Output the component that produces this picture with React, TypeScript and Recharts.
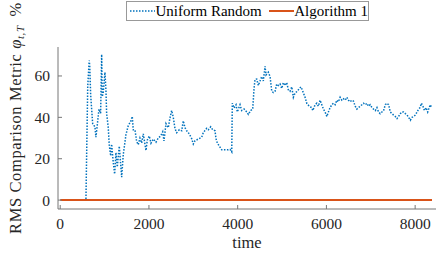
import React from 'react';
import { LineChart, Line, XAxis, YAxis, Legend } from 'recharts';

const urTime = [580, 620, 654, 665, 686, 731, 760, 783, 805, 834, 873, 911, 934, 947, 970, 1008, 1031, 1046, 1083, 1105, 1137, 1159, 1195, 1227, 1256, 1286, 1331, 1346, 1385, 1421, 1483, 1534, 1588, 1624, 1646, 1685, 1723, 1759, 1797, 1836, 1872, 1933, 1962, 2007, 2046, 2097, 2158, 2210, 2264, 2310, 2339, 2384, 2436, 2474, 2512, 2548, 2587, 2625, 2684, 2738, 2774, 2812, 2851, 2909, 2963, 3000, 3038, 3112, 3189, 3225, 3263, 3302, 3338, 3392, 3437, 3489, 3511, 3541, 3586, 3640, 3714, 3789, 3827, 3866, 3879, 3918, 3963, 3992, 4053, 4091, 4143, 4204, 4240, 4294, 4339, 4369, 4391, 4429, 4465, 4504, 4542, 4578, 4617, 4639, 4691, 4730, 4768, 4804, 4842, 4880, 4917, 4955, 4993, 5029, 5068, 5106, 5142, 5180, 5219, 5255, 5293, 5345, 5390, 5429, 5467, 5519, 5557, 5616, 5670, 5693, 5745, 5783, 5819, 5857, 5896, 5932, 5970, 6009, 6045, 6083, 6122, 6158, 6197, 6235, 6271, 6309, 6348, 6384, 6423, 6461, 6497, 6535, 6574, 6610, 6649, 6687, 6723, 6761, 6800, 6836, 6875, 6913, 6949, 6987, 7026, 7062, 7101, 7139, 7175, 7213, 7252, 7288, 7327, 7365, 7401, 7440, 7478, 7514, 7553, 7591, 7627, 7666, 7704, 7740, 7779, 7817, 7853, 7892, 7930, 7966, 8005, 8043, 8079, 8111, 8141, 8175, 8209, 8247, 8283, 8315, 8344, 8366];
const urValue = [0.5, 55, 67.5, 65, 51, 37, 36, 35.5, 30.4, 36, 44, 42, 70.4, 50, 52, 61.8, 53, 42, 35, 26.8, 21.4, 27, 18.3, 12.6, 23, 16, 26.1, 22, 11.1, 22, 31.8, 36, 38, 40.4, 34, 34, 28.3, 26.8, 30, 27.6, 32, 24, 29, 31, 27.5, 29.5, 28, 30, 31, 33, 28.6, 37, 35, 39.7, 43.3, 40, 34.6, 32.6, 34, 33.5, 38.3, 35, 33.5, 32, 29.7, 27.1, 28.7, 29.5, 30.4, 32.6, 33.6, 34.7, 34, 35.4, 34, 33.5, 29.7, 27.6, 26.1, 24.3, 24.3, 24.3, 24.5, 23.3, 46.8, 44.5, 46.1, 42.6, 46.1, 43.3, 44, 42.6, 41.4, 43.3, 44, 54, 58.3, 58.5, 55.4, 57.6, 59.7, 57.6, 64.7, 60.5, 61.8, 59.7, 52.6, 52, 52.6, 56.1, 55.4, 56.1, 54, 56.8, 55.4, 56.8, 53.3, 52.6, 54.7, 49.7, 51.8, 52.6, 54, 54.7, 52.6, 49.7, 46.8, 45.3, 44.7, 43.3, 46.1, 46.8, 45.4, 48.3, 46.1, 44, 42.6, 40.4, 42.6, 44.7, 46.1, 46.8, 46.1, 48.3, 47.5, 49.7, 48.3, 49, 48.3, 49.7, 48.3, 47.5, 48.3, 47.8, 45.4, 44, 44.7, 45.4, 46.1, 46.8, 46.1, 46.8, 45.4, 46.1, 44.7, 44, 43.3, 44.7, 42.6, 41.8, 42.6, 43.3, 46.1, 46.8, 46.1, 42.6, 41.8, 41.1, 40.4, 39.4, 40.4, 41.8, 42.6, 42.6, 41.8, 41.1, 40, 38.6, 40, 40.4, 41.1, 42.6, 44, 44.7, 46.8, 45.4, 43.3, 44.7, 42.6, 44.7, 46.1, 44.7];

const algTime = [0, 8380];
const algValue = [0, 0];

const xTicks = [0, 2000, 4000, 6000, 8000];
const yTicks = [0, 20, 40, 60];

const urData = urTime.map((t, i) => ({ t, v: urValue[i] }));
const algData = algTime.map((t, i) => ({ t, v: algValue[i] }));

const BLUE = '#0072BD';
const ORANGE = '#D95319';
const FONT = 'Liberation Serif, DejaVu Serif, serif';
const AXIS = '#777777';
const TXT = '#262626';

const XTick = (props: any) => (
  <text x={props.x} y={props.y} dy="0.71em" textAnchor="middle" fontSize={15.5} fill={TXT} style={{ fontFamily: FONT }}>
    {props.payload.value}
  </text>
);

const YTick = (props: any) => (
  <text x={props.x} y={props.y} dy="0.35em" textAnchor="end" fontSize={15.5} fill={TXT} style={{ fontFamily: FONT }}>
    {props.payload.value}
  </text>
);

const YLabel = () => (
  <text
    x={21}
    y={118}
    transform="rotate(-90, 21, 118)"
    textAnchor="middle"
    fontSize={16.5}
    letterSpacing={0.6}
    fill={TXT}
    style={{ fontFamily: FONT }}
  >
    RMS Comparison Metric{' '}
    <tspan fontStyle="italic">φ</tspan>
    <tspan fontStyle="italic" fontSize={11} dy={3}>t,T</tspan>
    <tspan dy={-3}>{'\u2002%'}</tspan>
  </text>
);

const XLabel = (props: any) => {
  const vb = props.viewBox || { x: 58, width: 378 };
  return (
    <text x={vb.x + vb.width / 2} y={248} textAnchor="middle" fontSize={16.5} fill={TXT} style={{ fontFamily: FONT }}>
      time
    </text>
  );
};

const LegendBox = () => (
  <div
    style={{
      border: '1px solid #999',
      background: '#fff',
      width: 243,
      height: 20,
      display: 'flex',
      alignItems: 'center',
      fontFamily: FONT,
      fontSize: 15,
      color: '#000',
      boxSizing: 'border-box',
      whiteSpace: 'nowrap',
    }}
  >
    <svg width={27} height={10} style={{ marginLeft: 2 }}>
      <line x1={1} y1={5} x2={26} y2={5} stroke={BLUE} strokeWidth={1.5} strokeDasharray="1.5 1.5" />
    </svg>
    <span>Uniform Random</span>
    <svg width={27} height={10} style={{ marginLeft: 6 }}>
      <line x1={1} y1={5} x2={26} y2={5} stroke={ORANGE} strokeWidth={2} />
    </svg>
    <span>Algorithm 1</span>
  </div>
);

export default function App() {
  return (
    <div style={{ position: 'absolute', left: 0, top: 0, width: 447, height: 254, background: '#fff', fontFamily: FONT }}>
      <LineChart width={447} height={254} margin={{ top: 27, right: 11, left: 0, bottom: 0 }}>
        <XAxis
          xAxisId="b"
          dataKey="t"
          type="number"
          domain={[-50, 8470]}
          ticks={xTicks}
          allowDataOverflow
          height={45}
          tickSize={-4}
          tickMargin={13}
          stroke={AXIS}
          tick={<XTick />}
          label={<XLabel />}
        />
        <XAxis
          xAxisId="top"
          orientation="top"
          dataKey="t"
          type="number"
          domain={[-50, 8470]}
          ticks={xTicks}
          allowDataOverflow
          height={0}
          tickSize={-4}
          tick={false}
          stroke={AXIS}
        />
        <YAxis
          yAxisId="l"
          type="number"
          domain={[-4.3, 74]}
          ticks={yTicks}
          allowDataOverflow
          width={58}
          tickSize={-4}
          tickMargin={12}
          stroke={AXIS}
          tick={<YTick />}
          label={<YLabel />}
        />
        <YAxis
          yAxisId="r"
          orientation="right"
          type="number"
          domain={[-4.3, 74]}
          ticks={yTicks}
          allowDataOverflow
          width={0}
          tickSize={-4}
          tick={false}
          stroke={AXIS}
        />
        <Legend
          verticalAlign="top"
          align="left"
          wrapperStyle={{ top: 1, left: 126, width: 'auto' }}
          content={() => <LegendBox />}
        />
        <Line
          xAxisId="b"
          yAxisId="l"
          data={algData}
          dataKey="v"
          type="linear"
          stroke={ORANGE}
          strokeWidth={2}
          dot={false}
          isAnimationActive={false}
        />
        <Line
          xAxisId="b"
          yAxisId="l"
          data={urData}
          dataKey="v"
          type="linear"
          stroke={BLUE}
          strokeWidth={1.5}
          strokeDasharray="1.5 1.5"
          dot={false}
          isAnimationActive={false}
        />
      </LineChart>
    </div>
  );
}
